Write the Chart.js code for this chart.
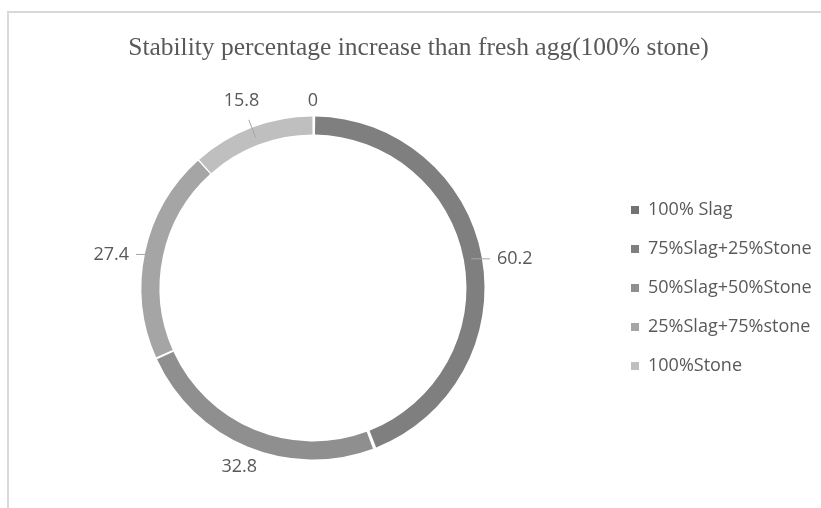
<!DOCTYPE html>
<html>
<head>
<meta charset="utf-8">
<script src="https://cdn.jsdelivr.net/npm/chart.js@4.4.0/dist/chart.umd.min.js"></script>
<style>
  html, body { margin: 0; padding: 0; background: #fff; }
  #wrap { width: 821px; height: 508px; }
</style>
</head>
<body>
<div id="wrap"><canvas id="stabilityChart" width="821" height="508"></canvas></div>
<script>
const chartTitle = 'Stability percentage increase than fresh agg(100% stone)';
const categories = ['100% Slag', '75%Slag+25%Stone', '50%Slag+50%Stone', '25%Slag+75%stone', '100%Stone'];
const values = [0, 60.2, 32.8, 27.4, 15.8];
const sliceColors = ['#737373', '#7f7f7f', '#8f8f8f', '#a5a5a5', '#bfbfbf'];
const leaderShown = [false, true, false, true, true];

const textGrey = '#595959';

// light frame along top and left edge (the source image is cropped)
const framePlugin = {
    id: 'frame',
    beforeDraw(chart) {
        const ctx = chart.ctx;
        ctx.save();
        ctx.strokeStyle = '#d9d9d9';
        ctx.lineWidth = 2;
        ctx.beginPath();
        ctx.moveTo(8, 508); ctx.lineTo(8, 12); ctx.lineTo(821, 12);
        ctx.stroke();
        ctx.restore();
    }
};

// value labels outside the ring, some with leader lines
const outsideLabels = {
    id: 'outsideLabels',
    afterDatasetsDraw(chart) {
        const ctx = chart.ctx;
        const meta = chart.getDatasetMeta(0);
        ctx.save();
        ctx.font = '18px "Open Sans"';
        ctx.textAlign = 'center';
        ctx.textBaseline = 'middle';
        ctx.strokeStyle = '#a6a6a6';
        ctx.lineWidth = 1;
        meta.data.forEach((arc, i) => {
            const p = arc.getProps(['x', 'y', 'startAngle', 'endAngle', 'outerRadius', 'innerRadius'], true);
            const mid = (p.startAngle + p.endAngle) / 2;
            const ux = Math.cos(mid), uy = Math.sin(mid);
            const txt = String(values[i]);
            const hw = ctx.measureText(txt).width / 2, hh = 9;
            const rm = (p.outerRadius + p.innerRadius) / 2;
            const sx = p.x + ux * rm, sy = p.y + uy * rm;
            let lx, ly;
            if (leaderShown[i] && Math.abs(ux) > 0.8) {
                // side label: horizontal leader line
                const side = Math.sign(ux);
                const edge = p.x + side * (p.outerRadius + 14);
                lx = edge + side * hw; ly = sy;
                ctx.beginPath();
                ctx.moveTo(sx, sy);
                ctx.lineTo(edge - side * 7, sy);
                ctx.stroke();
            } else {
                const ext = Math.abs(ux) * hw + Math.abs(uy) * hh;
                const gap = leaderShown[i] ? 16 : 8;
                const r = p.outerRadius + gap + ext;
                lx = p.x + ux * r; ly = p.y + uy * r;
                if (leaderShown[i]) {
                    const re = r - ext - 6;
                    ctx.beginPath();
                    ctx.moveTo(sx, sy);
                    ctx.lineTo(p.x + ux * re, p.y + uy * re);
                    ctx.stroke();
                }
            }
            ctx.fillStyle = textGrey;
            ctx.fillText(txt, lx, ly);
        });
        ctx.restore();
    }
};

new Chart(document.getElementById('stabilityChart'), {
    type: 'doughnut',
    data: {
        labels: categories,
        datasets: [{
            data: values,
            backgroundColor: sliceColors,
            borderWidth: 0,
            spacing: 3,
            hoverOffset: 0
        }]
    },
    options: {
        responsive: false,
        devicePixelRatio: 1,
        animation: false,
        cutout: '89.4%',
        layout: { padding: { left: 16, right: 0, top: 0, bottom: 48.5 } },
        plugins: {
            title: {
                display: true,
                text: chartTitle,
                color: textGrey,
                font: { family: '"Liberation Serif", serif', size: 25.5, weight: 'normal' },
                padding: { top: 32.7, bottom: 53.2 }
            },
            legend: {
                position: 'right',
                fullSize: false,
                maxWidth: 211,
                labels: {
                    boxWidth: 8,
                    boxHeight: 8,
                    padding: 21,
                    color: textGrey,
                    font: { family: '"Open Sans"', size: 18 }
                }
            },
            tooltip: { enabled: false }
        }
    },
    plugins: [framePlugin, outsideLabels]
});
</script>
</body>
</html>
